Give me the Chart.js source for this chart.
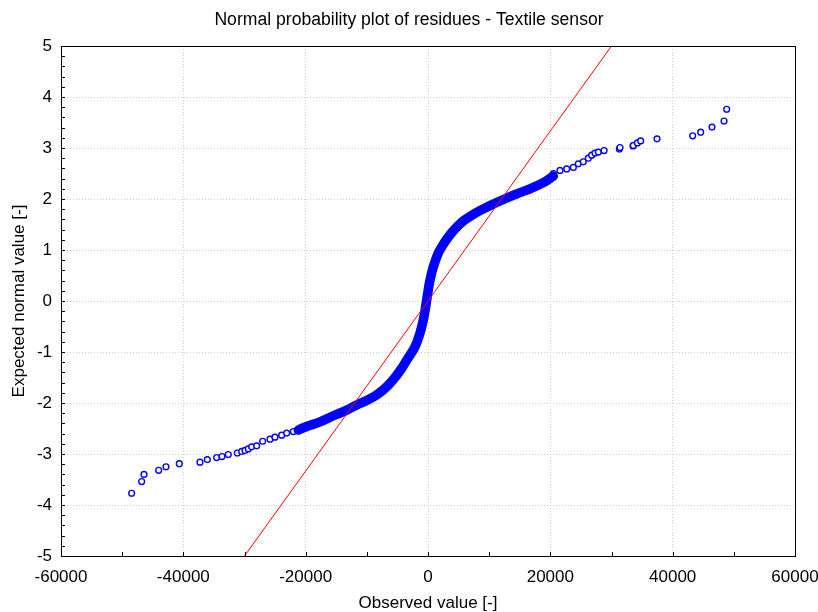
<!DOCTYPE html>
<html><head><meta charset="utf-8">
<script src="https://cdn.jsdelivr.net/npm/chart.js@4/dist/chart.umd.min.js"></script>
<style>html,body{margin:0;padding:0;background:#fff}#wrap{width:818px;height:612px}</style>
</head><body><div id="wrap"><canvas id="c" width="818" height="612"></canvas></div>
<script>
// Individual (sparse) observations in the tails
const tailX = [-48450,-46810,-46430,-44030,-42840,-40660,-37280,-36080,-34550,-33680,-32650,-31180,-30460,-29920,-29380,-28830,-28010,-27030,-25830,-25020,-23920,-23100,-22020,-21200,
  20490,21580,22680,23760,24570,25390,26210,26760,27300,27850,28780,31280,31390,33520,33570,34230,34770,37440,43270,44580,46430,48400,48830];
const tailY = [-3.77,-3.54,-3.40,-3.32,-3.25,-3.19,-3.16,-3.11,-3.07,-3.05,-3.01,-2.98,-2.95,-2.93,-2.90,-2.86,-2.84,-2.75,-2.71,-2.67,-2.63,-2.59,-2.56,-2.53,
  2.50,2.56,2.59,2.62,2.69,2.73,2.80,2.86,2.90,2.92,2.95,2.98,3.01,3.04,3.05,3.10,3.14,3.18,3.24,3.31,3.41,3.53,3.76];
// Dense central band of observations (traced centre of the band)
const bandX = [-21200,-19840,-17660,-15480,-13290,-11660,-10020,-8390,-6750,-5400,-4200,-3490,-2130,-1310,-770,-380,-50,330,870,1690,2600,3600,4700,5900,7960,10140,12310,14500,16680,18850,20490];
const bandY = [-2.53,-2.46,-2.37,-2.25,-2.14,-2.04,-1.95,-1.84,-1.68,-1.50,-1.30,-1.16,-0.90,-0.63,-0.37,-0.11,0.15,0.41,0.67,0.94,1.13,1.30,1.45,1.58,1.74,1.87,1.99,2.10,2.20,2.32,2.45];
// Reference (normal) line
const fitX = [-30000, 30000];
const fitY = [-5, 5];
// Axis ticks
const xTickValues = [-60000,-40000,-20000,0,20000,40000,60000];
const yTickValues = [-5,-4,-3,-2,-1,0,1,2,3,4,5];
const titleText = 'Normal probability plot of residues - Textile sensor';
const xTitle = 'Observed value [-]';
const yTitle = 'Expected normal value [-]';

const FONT = "'Liberation Sans', Arial, sans-serif";
const BLUE = '#0000ff';
const pts = (xs, ys) => xs.map((x, i) => ({x, y: ys[i]}));

const framePlugin = {
  id: 'frame',
  afterDraw(chart) {
    const {ctx, chartArea: a, scales: {x, y}} = chart;
    ctx.save();
    ctx.strokeStyle = '#000';
    ctx.lineWidth = 1;
    ctx.beginPath();
    for (let v = -60000; v <= 60000; v += 10000) {
      const px = Math.round(x.getPixelForValue(v)) + 0.5;
      ctx.moveTo(px, a.bottom); ctx.lineTo(px, a.bottom - 4);
    }
    for (let k = -25; k <= 25; k++) {
      const py = Math.round(y.getPixelForValue(k / 5)) + 0.5;
      ctx.moveTo(a.left, py); ctx.lineTo(a.left + 4, py);
    }
    ctx.stroke();
    ctx.strokeRect(Math.round(a.left) + 0.5, Math.round(a.top) + 0.5, Math.round(a.right - a.left), Math.round(a.bottom - a.top));
    ctx.restore();
  }
};

new Chart(document.getElementById('c'), {
  type: 'scatter',
  data: {
    datasets: [
      {
        label: 'fit', type: 'line', data: pts(fitX, fitY),
        borderColor: '#ff0000', borderWidth: 1, pointRadius: 0, fill: false, order: 0
      },
      {
        label: 'band', type: 'line', data: pts(bandX, bandY),
        borderColor: BLUE, borderWidth: 9.5, tension: 0.4, borderCapStyle: 'round', borderJoinStyle: 'round',
        pointRadius: 2.8, pointBorderWidth: 1.4, pointBackgroundColor: 'rgba(0,0,0,0)', pointBorderColor: BLUE,
        fill: false, order: 1
      },
      {
        label: 'tails', data: pts(tailX, tailY),
        pointRadius: 2.9, pointBorderWidth: 1.4, pointBackgroundColor: '#ffffff', borderColor: BLUE, pointBorderColor: BLUE,
        order: 2
      }
    ]
  },
  options: {
    responsive: false, animation: false, devicePixelRatio: 1,
    layout: {padding: {left: 0, right: 0, top: 0, bottom: 0}},
    plugins: {
      legend: {display: false}, tooltip: {enabled: false},
      title: {display: true, text: titleText, color: '#000',
        font: {family: FONT, size: 17.6, weight: 'normal', lineHeight: 1.2},
        padding: {top: 9.5, bottom: 15.4}}
    },
    scales: {
      x: {
        type: 'linear', min: -60000, max: 60000,
        afterBuildTicks: s => { s.ticks = xTickValues.map(v => ({value: v})); },
        afterFit: s => { s.height = 56; s.paddingLeft = 0; s.paddingRight = 23; },
        ticks: {color: '#000', font: {family: FONT, size: 17}, padding: 11, maxRotation: 0, callback: v => String(v)},
        grid: {color: '#cfcfcf', drawTicks: false, lineWidth: 1},
        border: {display: false, dash: [1, 2]},
        title: {display: true, text: xTitle, color: '#000', font: {family: FONT, size: 17, lineHeight: 1.0}, padding: {top: 0, bottom: 0}}
      },
      y: {
        type: 'linear', min: -5, max: 5,
        afterBuildTicks: s => { s.ticks = yTickValues.map(v => ({value: v})); },
        afterFit: s => { s.width = 61; },
        ticks: {color: '#000', font: {family: FONT, size: 17}, padding: 9, callback: v => String(v)},
        grid: {color: '#cfcfcf', drawTicks: false, lineWidth: 1},
        border: {display: false, dash: [1, 2]},
        title: {display: true, text: yTitle, color: '#000', font: {family: FONT, size: 17, lineHeight: 1.2}, padding: {top: 9, bottom: 0}}
      }
    }
  },
  plugins: [framePlugin]
});
</script>
</body></html>
